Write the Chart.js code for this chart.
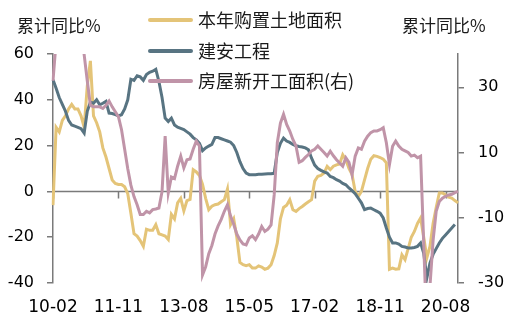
<!DOCTYPE html>
<html>
<head>
<meta charset="utf-8">
<script src="https://cdn.jsdelivr.net/npm/chart.js@4/dist/chart.umd.min.js"></script>
<style>
  body { margin: 0; background: #fff; }
  #wrap { position: relative; width: 511px; height: 325px; }
  #chart { position: absolute; left: 0; top: 0; }
  .unit, .legend-item span {
    position: absolute; font-family: "Noto Sans CJK SC", sans-serif; color: #1a1a1a;
    line-height: 1; white-space: nowrap;
  }
  .unit { font-size: 17px; top: 16px; }
  .legend-item { position: absolute; left: 148px; height: 30px; }
  .legend-item i { position: absolute; left: 0; top: 13px; width: 45px; height: 4px; border-radius: 2px; }
  .legend-item span { left: 50px; top: 5px; font-size: 18px; }
</style>
</head>
<body>
<div id="wrap">
  <canvas id="chart" width="511" height="325"></canvas>
  <div class="unit" style="left:17px">累计同比%</div>
  <div class="unit" style="left:402px">累计同比%</div>
  <div id="legend"></div>
</div>
<script>
// monthly cumulative YoY, 2010-02 .. 2020-12
var startYear = 2010, startMonth = 2, monthCount = 131;
var months = [];
for (var k = 0; k < monthCount; k++) {
  var m = startMonth - 1 + k;
  var yy = startYear + Math.floor(m / 12), mm = m % 12 + 1;
  months.push(String(yy).slice(2) + '-' + (mm < 10 ? '0' : '') + mm);
}
var xTickLabels = ['10-02', '11-11', '13-08', '15-05', '17-02', '18-11', '20-08'];
var leftTicks = [-40, -20, 0, 20, 40, 60];
var rightTicks = [-30, -10, 10, 30];

// 本年购置土地面积 (left axis)
var landArea = [
  -6, 28, 26, 31, 33, 36, 38, 36, 36, 33, 28, 46, 57, 33, 30, 26, 19, 15, 10, 5,
  3.5, 3, 3, 2, -1, -9.5, -18.5, -19.5, -21.5, -24, -16.5, -17, -17, -14.5, -18.5, -19, -19.5, -21, -10, -12,
  -5, -3, -8.5, -4, -3.5, 9.5, 8.5, 7, 3, -3, -8, -6.5, -5.8, -5.5, -4.5, -3.6, 1, -14.5, -12, -20,
  -31, -32, -32.4, -32, -33.5, -33.5, -32.5, -33, -34, -33.5, -32, -28, -22.5, -12, -7, -6, -3.6, -8, -8.7, -7.5,
  -6.6, -5.5, -4.5, -3.6, 4.5, 6.6, 7, 8, 10.9, 9.5, 11, 11.6, 12, 16, 13.8, 10, 7.3, 0, -2.2, 0,
  5, 10, 14, 15.6, 15.3, 14.8, 14.1, 12.5, -34, -33.5, -34, -33.8, -27.7, -29.8, -25, -20, -17.5, -14, -11.6, -20,
  -29, -24, -14, -7, -0.7, -0.7, -1.5, -2.5, -2.9, -4, -5
];
// 建安工程 (left axis)
var construction = [
  48.8, 45, 41, 38, 35, 31, 29, 28.5, 28, 27.4, 25.5, 35, 39, 38.5, 40, 37.8, 38.5, 39.3, 34.2, 34,
  33.5, 33, 33.5, 36, 40, 49, 48.5, 50.5, 50, 48.5, 51, 52, 52.5, 53.3, 48, 41, 32, 30.5, 32, 29,
  28, 27.5, 27, 26, 25, 23.5, 22.5, 21, 17.8, 19, 19.8, 20.5, 23.5, 23.5, 23, 22.5, 22, 21.5, 20, 17,
  13, 10, 8, 7.3, 7.3, 7.3, 7.5, 7.5, 7.6, 7.7, 7.7, 7.9, 17, 21, 23.3, 22, 21.4, 20.5, 19.9, 19.6,
  19.4, 19, 18.2, 14.5, 11.5, 10, 9.2, 8.5, 8, 6.5, 6, 5.1, 4.5, 3.5, 2.9, 1.5, 0.3, -1, -3, -5,
  -8, -7.5, -7.3, -8, -8.7, -9.5, -11.6, -16, -20, -22.5, -22.5, -23, -24, -24.3, -24.7, -24.7, -24.5, -24, -22.5, -27,
  -37.8, -31.3, -27.5, -25, -22.5, -20.5, -19, -17.5, -16, -14.5, null
];
// 房屋新开工面积 (right axis)
var newStarts = [
  32, 44, 52, 58, 60, 62, 60, 57, 53, 47, 40, 32, 24.5, 24, 24, 24, 23.5, 24.5, 25.8, 24,
  22.5, 21, 17, 11, 5, 0, -3.5, -6, -9, -9, -8, -8.5, -7.5, -7.3, -7, -2, 15, -2.4, 2.5, 2,
  5.8, 8.9, 5.3, 7.8, 8, 11, 13.5, 12, -27.5, -25, -21, -18.5, -15, -12.5, -10.5, -8, -6, -9.5, -12, -15,
  -16.8, -18, -18.3, -16.2, -15.5, -16.7, -15, -12.7, -14.2, -13.5, -12.2, -3, 13, 19, 21.7, 18.6, 16.6, 14, 12, 7,
  7.5, 8.5, 9.4, 10.5, 11, 12, 11, 10, 8.9, 10.4, 9, 7.8, 6.8, 5.8, 8.4, 7, 3.2, 8.9, 11.4, 11,
  13.5, 15, 16.1, 16.6, 16.6, 17, 17.6, 13, 6.3, 11.9, 13.5, 12, 11, 10.5, 10, 8.9, 9.2, 8.4, 8.9, -18,
  -45, -31, -17, -8, -5, -4, -3.4, -3, -2.8, -2.3, -1.9
];

var seriesNames = ['本年购置土地面积', '建安工程', '房屋新开工面积(右)'];
var seriesColors = ['#E4C478', '#587482', '#C094A8'];
var axisColor = '#7a7a7a';
var tickFont = { family: 'DejaVu Sans', size: 16 };

// zero line with the dated tick marks hanging below it
var zeroAxis = {
  id: 'zeroAxis',
  beforeDatasetsDraw: function (chart) {
    var ctx = chart.ctx, area = chart.chartArea;
    var x = chart.scales.x, y0 = chart.scales.y.getPixelForValue(0);
    ctx.save();
    ctx.strokeStyle = axisColor;
    ctx.lineWidth = 1.5;
    ctx.beginPath();
    ctx.moveTo(area.left, y0);
    ctx.lineTo(area.right, y0);
    months.forEach(function (m, i) {
      if (xTickLabels.indexOf(m) < 0) return;
      var px = Math.round(x.getPixelForValue(i)) + 0.5;
      ctx.moveTo(px, y0);
      ctx.lineTo(px, y0 + 7);
    });
    ctx.stroke();
    ctx.restore();
  }
};

function lineSet(idx, data, axis, order) {
  return {
    label: seriesNames[idx], data: data, yAxisID: axis, order: order,
    borderColor: seriesColors[idx], backgroundColor: seriesColors[idx],
    borderWidth: 3, pointRadius: 0, tension: 0, fill: false
  };
}

new Chart(document.getElementById('chart').getContext('2d'), {
  type: 'line',
  data: {
    labels: months,
    datasets: [
      lineSet(0, landArea, 'y', 3),
      lineSet(1, construction, 'y', 2),
      lineSet(2, newStarts, 'y1', 1)
    ]
  },
  options: {
    responsive: false, animation: false,
    layout: { padding: { top: 54, left: 0, right: 0, bottom: 0 } },
    plugins: { legend: { display: false }, tooltip: { enabled: false } },
    scales: {
      x: {
        grid: { display: false, drawTicks: false }, border: { display: false },
        ticks: {
          autoSkip: false, maxRotation: 0, minRotation: 0, padding: 14,
          color: '#000', font: { family: 'DejaVu Sans', size: 17 },
          callback: function (v, i) { return xTickLabels.indexOf(months[i]) >= 0 ? months[i] : ''; }
        },
        afterFit: function (s) { s.height = 42; }
      },
      y: {
        position: 'left', min: -40, max: 60,
        afterBuildTicks: function (s) { s.ticks = leftTicks.map(function (v) { return { value: v }; }); },
        ticks: { color: '#000', font: tickFont, padding: 13 },
        grid: { drawOnChartArea: false, tickLength: 6, color: axisColor, lineWidth: 1.5 },
        border: { color: axisColor, width: 1.5 },
        afterFit: function (s) { s.width = 53; }
      },
      y1: {
        position: 'right', min: -30, max: 40.2,
        afterBuildTicks: function (s) { s.ticks = rightTicks.map(function (v) { return { value: v }; }); },
        ticks: { color: '#000', font: tickFont, padding: 14 },
        grid: { drawOnChartArea: false, tickLength: 6, color: axisColor, lineWidth: 1.5 },
        border: { color: axisColor, width: 1.5 },
        afterFit: function (s) { s.width = 53; }
      }
    }
  },
  plugins: [zeroAxis]
});

// legend drawn as html over the top-left of the plot
var legendTops = [5, 36, 66];
var legend = document.getElementById('legend');
seriesNames.forEach(function (name, i) {
  var item = document.createElement('div');
  item.className = 'legend-item';
  item.style.top = legendTops[i] + 'px';
  item.innerHTML = '<i style="background:' + seriesColors[i] + '"></i><span>' + name + '</span>';
  legend.appendChild(item);
});
</script>
</body>
</html>
